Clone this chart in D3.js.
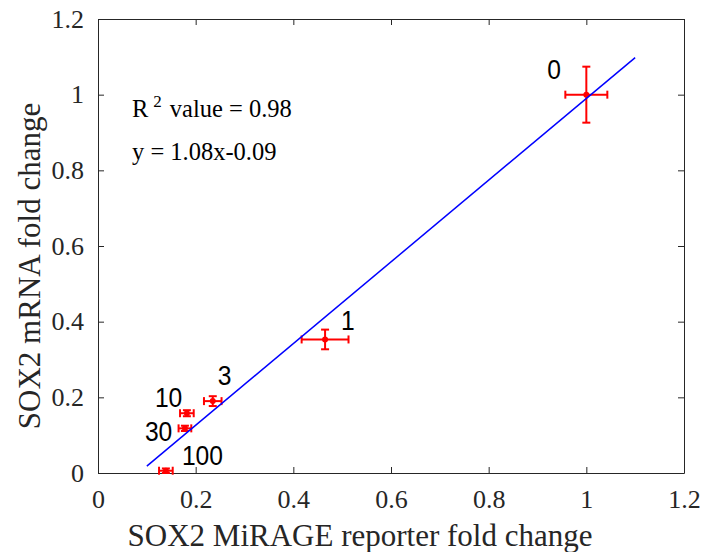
<!DOCTYPE html>
<html>
<head>
<meta charset="utf-8">
<script src="https://cdn.jsdelivr.net/npm/d3@7"></script>
<style>
  html, body { margin: 0; padding: 0; background: #fff; }
  svg { display: block; }
</style>
</head>
<body>
<div id="chart"></div>
<script>
// ---- data ----
const doseLabels   = ["0", "1", "3", "10", "30", "100"];
const reporterFold = [1.0, 0.465, 0.235, 0.182, 0.178, 0.139];
const reporterErr  = [0.043, 0.048, 0.018, 0.014, 0.013, 0.014];
const mrnaFold     = [1.0, 0.353, 0.19, 0.158, 0.118, 0.006];
const mrnaErr      = [0.074, 0.026, 0.013, 0.008, 0.007, 0.006];
const fitX = [0.1, 1.1];
const fitY = [0.018, 1.098];
const xTicks = [0, 0.2, 0.4, 0.6, 0.8, 1, 1.2];
const yTicks = [0, 0.2, 0.4, 0.6, 0.8, 1, 1.2];
const xTickLabels = ["0", "0.2", "0.4", "0.6", "0.8", "1", "1.2"];
const yTickLabels = ["0", "0.2", "0.4", "0.6", "0.8", "1", "1.2"];
const xTitle = "SOX2 MiRAGE reporter fold change";
const yTitle = "SOX2 mRNA fold change";
const r2Text = "0.98";
const eqText = "y = 1.08x-0.09";

// label pixel offsets from their points (layout only)
const labelOffsets = [[-39, -16], [16, -9], [5, -16], [-32, -6], [-40, 13], [16, -6]];

// ---- layout ----
const W = 702, H = 552;
const mLeft = 98, mRight = 684, mTop = 19, mBottom = 473;
const axisColor = "#262626";
const serif = "'Liberation Serif', 'Times New Roman', serif";
const sans = "'Liberation Sans', Arial, sans-serif";

const svg = d3.select("#chart").append("svg").attr("width", W).attr("height", H);

const x = d3.scaleLinear().domain([0, 1.2]).range([mLeft, mRight]);
const y = d3.scaleLinear().domain([0, 1.2]).range([mBottom, mTop]);

// axes
const fmtX = d => xTickLabels[xTicks.indexOf(d)];
const fmtY = d => yTickLabels[yTicks.indexOf(d)];

const gx = svg.append("g").attr("transform", `translate(0,${mBottom})`)
  .call(d3.axisBottom(x).tickValues(xTicks).tickFormat(fmtX).tickSizeInner(-6).tickSizeOuter(0).tickPadding(17));
const gy = svg.append("g").attr("transform", `translate(${mLeft},0)`)
  .call(d3.axisLeft(y).tickValues(yTicks).tickFormat(fmtY).tickSizeInner(-6).tickSizeOuter(0).tickPadding(14));
const gt = svg.append("g").attr("transform", `translate(0,${mTop})`)
  .call(d3.axisTop(x).tickValues(xTicks).tickFormat("").tickSizeInner(-6).tickSizeOuter(0));
const gr = svg.append("g").attr("transform", `translate(${mRight},0)`)
  .call(d3.axisRight(y).tickValues(yTicks).tickFormat("").tickSizeInner(-6).tickSizeOuter(0));

[gx, gy, gt, gr].forEach(g => {
  g.selectAll("path.domain").attr("stroke", axisColor).attr("stroke-width", 1);
  g.selectAll(".tick line").attr("stroke", axisColor).attr("stroke-width", 1);
  g.selectAll(".tick text").attr("fill", axisColor).style("font-family", serif).style("font-size", "26px");
});

// axis titles
svg.append("text")
  .attr("x", (mLeft + mRight) / 2 - 31).attr("y", 546)
  .attr("text-anchor", "middle")
  .style("font-family", serif).style("font-size", "31px").attr("fill", axisColor)
  .text(xTitle);
svg.append("text")
  .attr("transform", `translate(40,${266}) rotate(-90)`)
  .attr("text-anchor", "middle")
  .style("font-family", serif).style("font-size", "31px").attr("fill", axisColor)
  .text(yTitle);

// error bars
const red = "#ff0000";
const cap = 4;
const pts = doseLabels.map((lab, i) => ({
  lab, xv: reporterFold[i], xe: reporterErr[i], yv: mrnaFold[i], ye: mrnaErr[i], off: labelOffsets[i]
}));
const eb = svg.append("g").attr("stroke", red).attr("stroke-width", 2).attr("fill", "none");
pts.forEach(p => {
  const cx = x(p.xv), cy = y(p.yv);
  const y1 = y(p.yv + p.ye), y2 = y(p.yv - p.ye);
  const x1 = x(p.xv - p.xe), x2 = x(p.xv + p.xe);
  eb.append("line").attr("x1", cx).attr("x2", cx).attr("y1", y1).attr("y2", y2);
  eb.append("line").attr("x1", cx - cap).attr("x2", cx + cap).attr("y1", y1).attr("y2", y1);
  eb.append("line").attr("x1", cx - cap).attr("x2", cx + cap).attr("y1", y2).attr("y2", y2);
  eb.append("line").attr("x1", x1).attr("x2", x2).attr("y1", cy).attr("y2", cy);
  eb.append("line").attr("x1", x1).attr("x2", x1).attr("y1", cy - cap).attr("y2", cy + cap);
  eb.append("line").attr("x1", x2).attr("x2", x2).attr("y1", cy - cap).attr("y2", cy + cap);
});
svg.append("g").selectAll("circle").data(pts).join("circle")
  .attr("cx", d => x(d.xv)).attr("cy", d => y(d.yv)).attr("r", 3).attr("fill", red);

// fit line
svg.append("path")
  .datum(fitX.map((v, i) => [v, fitY[i]]))
  .attr("d", d3.line().x(d => x(d[0])).y(d => y(d[1])))
  .attr("stroke", "#0000ff").attr("stroke-width", 1.5).attr("fill", "none");

// dose labels
svg.append("g").selectAll("text").data(pts).join("text")
  .attr("transform", d => `translate(${x(d.xv) + d.off[0]},${y(d.yv) + d.off[1]}) scale(0.88,1)`)
  .style("font-family", sans).style("font-size", "28px").attr("fill", "#000")
  .text(d => d.lab);

// annotations
const ann = svg.append("text").attr("x", 132).attr("y", 117)
  .style("font-family", serif).style("font-size", "24.5px").attr("fill", "#000");
ann.append("tspan").text("R");
ann.append("tspan").attr("dx", 5).attr("dy", -10).style("font-size", "17px").text("2");
ann.append("tspan").attr("dx", 8).attr("dy", 10).text("value = " + r2Text);
svg.append("text").attr("x", 132).attr("y", 160)
  .style("font-family", serif).style("font-size", "24.5px").attr("fill", "#000")
  .text(eqText);
</script>
</body>
</html>
